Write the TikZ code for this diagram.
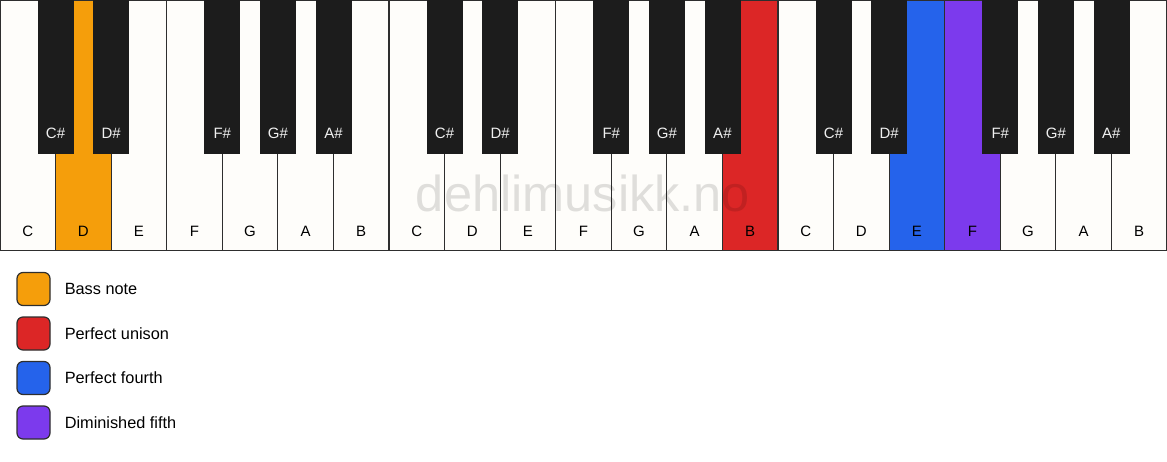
\documentclass[tikz,border=0pt]{standalone}
\usepackage{fontspec}
\setmainfont{Liberation Sans}
\usetikzlibrary{positioning}
\definecolor{ivory}{HTML}{FEFDFA}
\definecolor{keyblack}{HTML}{1C1C1C}
\definecolor{keyline}{HTML}{2E2E2E}
\definecolor{bass}{HTML}{F59E0B}
\definecolor{unison}{HTML}{DC2626}
\definecolor{fourth}{HTML}{2563EB}
\definecolor{dimfifth}{HTML}{7C3AED}
\tikzset{
  whitekey/.style={rectangle,draw=keyline,line width=1.2pt,minimum width=55.57pt,
    minimum height=250pt,inner sep=0pt,anchor=north},
  blackkey/.style={rectangle,draw=keyblack,fill=keyblack,line width=0.6pt,
    minimum width=35pt,minimum height=153pt,inner sep=0pt,anchor=north},
  whitename/.style={font=\fontsize{15}{18}\selectfont,text=black},
  blackname/.style={font=\fontsize{15}{18}\selectfont,text=white!94!black},
  legendbox/.style={rectangle,rounded corners=6pt,draw=keyline,line width=1.2pt,
    minimum width=33pt,minimum height=33pt,inner sep=0pt},
  legendtext/.style={font=\fontsize{16.3}{19}\selectfont,inner sep=0pt,anchor=west}
}
\begin{document}
\begin{tikzpicture}[x=1pt,y=-1pt]
\useasboundingbox (0,0) rectangle (1167,461);
% white keys
\foreach \n/\c [count=\i] in {C/ivory,D/bass,E/ivory,F/ivory,G/ivory,A/ivory,B/ivory,
    C/ivory,D/ivory,E/ivory,F/ivory,G/ivory,A/ivory,B/unison,
    C/ivory,D/ivory,E/fourth,F/dimfifth,G/ivory,A/ivory,B/ivory}{
  \node[whitekey,fill=\c] (w\i) at ({(\i-0.5)*55.57},0) {};
  \node[whitename] (wn\i) at ([yshift=20pt]w\i.south) {\n};
}
% black keys
\foreach \k/\n in {1/C\#,2/D\#,4/F\#,5/G\#,6/A\#,
    8/C\#,9/D\#,11/F\#,12/G\#,13/A\#,
    15/C\#,16/D\#,18/F\#,19/G\#,20/A\#}{
  \node[blackkey] (b\k) at ({\k*55.57},0) {};
  \node[blackname] (bn\k) at ([yshift=20pt]b\k.south) {\n};
}
% watermark
\node[font=\fontsize{50.5}{52}\selectfont,text=black,text opacity=0.12] (mark) at (583,193) {dehlimusikk.no};
% legend
\node[legendbox,fill=bass] (lbass) at (33.5,289) {};
\node[legendtext,right=14pt of lbass] (tbass) {Bass note};
\node[legendbox,fill=unison] (lunison) at (33.5,333.5) {};
\node[legendtext,right=14pt of lunison] (tunison) {Perfect unison};
\node[legendbox,fill=fourth] (lfourth) at (33.5,378) {};
\node[legendtext,right=14pt of lfourth] (tfourth) {Perfect fourth};
\node[legendbox,fill=dimfifth] (lfifth) at (33.5,422.5) {};
\node[legendtext,right=14pt of lfifth] (tfifth) {Diminished fifth};
\end{tikzpicture}
\end{document}
